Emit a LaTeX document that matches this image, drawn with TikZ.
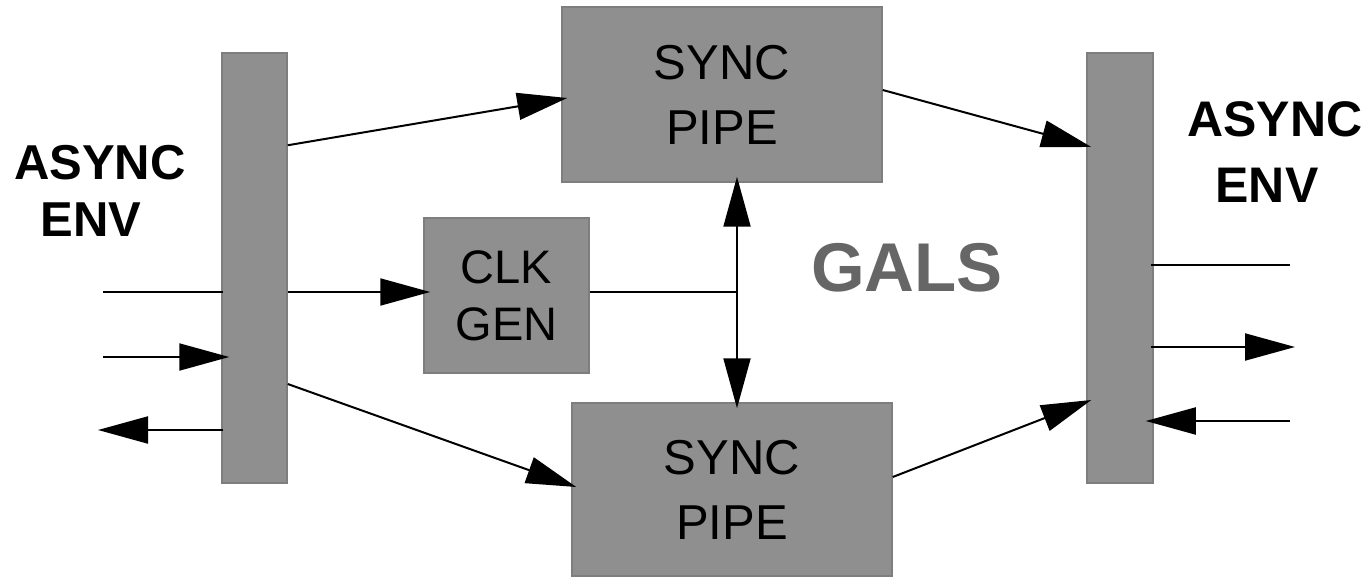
\documentclass[tikz,border=0pt]{standalone}
\usepackage{fontspec}
\setmainfont{Liberation Sans}
\usetikzlibrary{arrows.meta,calc}
\definecolor{blockfill}{RGB}{143,143,143}
\definecolor{blockedge}{RGB}{126,126,126}
\definecolor{galsgray}{RGB}{102,102,102}
\begin{document}
\begin{tikzpicture}[x=1pt,y=-1pt,
  block/.style={draw=blockedge,fill=blockfill,line width=1.5pt,inner sep=0pt,
    align=center,text=black},
  wire/.style={line width=2pt,draw=black},
  sig/.style={wire,-{Triangle[length=50pt,width=27pt]}},
  envlabel/.style={align=center,inner sep=0pt,font=\bfseries}]
\useasboundingbox (0,0) rectangle (1370,577);

% interface bars
\node[block,minimum width=65pt,minimum height=430pt] (lbar) at (254.5,268) {};
\node[block,minimum width=66pt,minimum height=430pt] (rbar) at (1120,268) {};

% functional blocks
\node[block,minimum width=165pt,minimum height=155pt,
  font=\fontsize{47pt}{57pt}\selectfont] (clk) at (506.5,295.5) {CLK\\GEN};
\node[block,minimum width=320pt,minimum height=175pt,
  font=\fontsize{49pt}{65pt}\selectfont] (sp1) at (722,94.5) {SYNC\\PIPE};
\node[block,minimum width=320pt,minimum height=173pt,
  font=\fontsize{49pt}{65pt}\selectfont] (sp2) at (732,489.5) {SYNC\\PIPE};

% labels (second line set slightly left of centre)
\node[envlabel,font=\bfseries\fontsize{49pt}{57pt}\selectfont] (envL) at (100,191) {ASYNC\\ENV\kern0.36em};
\node[envlabel,font=\bfseries\fontsize{50pt}{66pt}\selectfont] (envR) at (1275,152.5) {ASYNC\\ENV\kern0.32em};
\node[inner sep=0pt,text=galsgray,font=\bfseries\fontsize{69pt}{80pt}\selectfont] (gals) at (907,267.5) {GALS};

% free ends of the environment signals
\coordinate (in1) at (103,292);
\coordinate (in2) at (103,357);
\coordinate (out1) at (98,430);
\coordinate (r1) at (1290,265);
\coordinate (r2) at (1295,347);
\coordinate (r3) at (1290,421);
\coordinate (j) at (737,292);

% left environment
\draw[wire] (in1) -- ($(lbar.west)+(2,24)$);
\draw[sig] (in2) -- ($(lbar.west)+(8,89)$);
\draw[sig] ($(lbar.west)+(2,162)$) -- (out1);

% left bar to blocks
\draw[sig] ($(lbar.north east)+(0,93)$) -- ($(sp1.west)+(6,3.5)$);
\draw[sig] ($(lbar.east)+(0,24)$) -- ($(clk.west)+(7,-3.5)$);
\draw[sig] ($(lbar.east)+(0,116)$) -- ($(sp2.west)+(5,-2.5)$);

% clock distribution
\draw[wire] ($(clk.east)+(0,-3.5)$) -- (j);
\draw[sig] (j) -- ($(sp1.south -| j)+(0,-6)$);
\draw[sig] (j) -- ($(sp2.north -| j)+(0,6)$);

% blocks to right bar
\draw[sig] ($(sp1.east)+(0,-4.5)$) -- ($(rbar.west)+(5,-121)$);
\draw[sig] ($(sp2.east)+(0,-12.5)$) -- ($(rbar.west)+(5,132)$);

% right environment
\draw[wire] ($(rbar.east)+(-3,-3)$) -- (r1);
\draw[sig] ($(rbar.east)+(-3,79)$) -- (r2);
\draw[sig] (r3) -- ($(rbar.east)+(-8,153)$);
\end{tikzpicture}
\end{document}
